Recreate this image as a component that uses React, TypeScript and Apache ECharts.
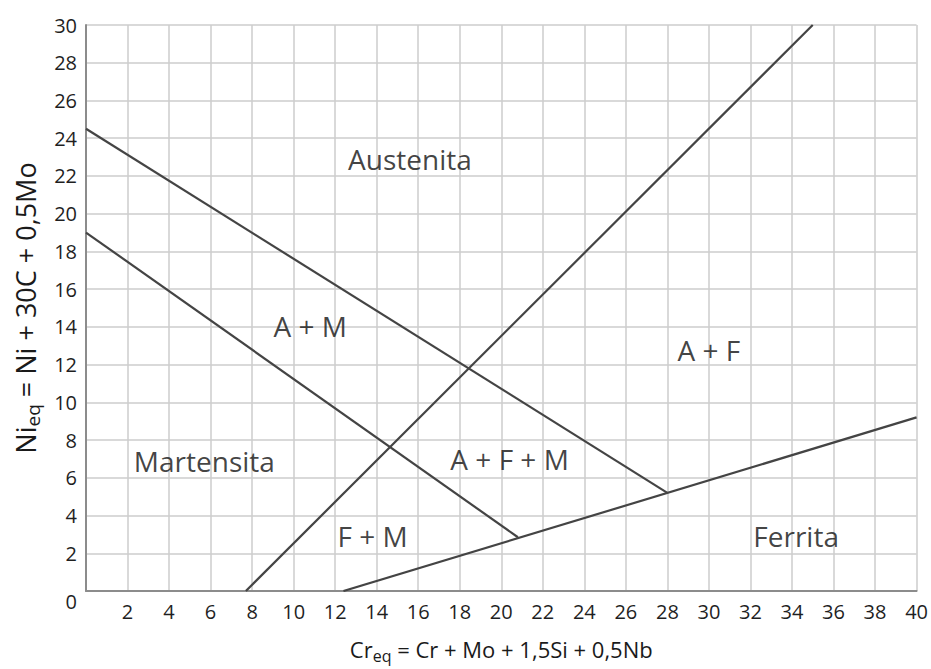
import React, { useEffect, useRef } from "react";
import * as echarts from "echarts";

// Boundary lines of the Schaeffler-type diagram (Cr_eq, Ni_eq)
const austeniteBoundary = [[0, 24.5], [28, 5.2]];
const martensiteBoundary = [[0, 19], [20.8, 2.85]];
const ferriteStartLine = [[7.7, 0], [35, 30]];
const ferriteBoundary = [[12.4, 0], [40, 9.2]];

// Region labels
const regionNames = ["Austenita", "A + M", "A + F", "A + F + M", "Martensita", "F + M", "Ferrita"];
const regionX = [15.6, 10.8, 30.0, 20.4, 5.7, 13.8, 34.2];
const regionY = [22.9, 14.05, 12.8, 7.0, 6.9, 2.9, 2.9];

const xMin = 0, xMax = 40, xStep = 2;
const yMin = 0, yMax = 30, yStep = 2;

const FONT = "'Open Sans', 'Noto Sans', sans-serif";
const LINE_COLOR = "#444444";

export default function App() {
  const ref = useRef<HTMLDivElement>(null);
  useEffect(() => {
    document.body.style.margin = "0";
    const chart = echarts.init(ref.current!, null, { renderer: "svg" });
    const lineSeries = (data: number[][]) => ({
      type: "line",
      data,
      symbol: "none",
      lineStyle: { color: LINE_COLOR, width: 2.2 },
      silent: true,
    });
    chart.setOption({
      animation: false,
      backgroundColor: "#ffffff",
      textStyle: { fontFamily: FONT },
      grid: { left: 86, right: 14, top: 25, bottom: 76 },
      xAxis: {
        type: "value",
        min: xMin,
        max: xMax,
        interval: xStep,
        axisLine: { show: true, onZero: false, lineStyle: { color: "#8c8c8c", width: 2 } },
        axisTick: { show: false },
        axisLabel: {
          color: "#1f1f1f",
          fontSize: 20,
          fontFamily: FONT,
          margin: 10,
          formatter: (v: number) => (v === 0 ? "" : String(v)),
        },
        splitLine: { show: true, lineStyle: { color: "#cdcdcd", width: 1.5 } },
        name: "{n|Cr}{s|eq}{n| = Cr + Mo + 1,5Si + 0,5Nb}",
        nameLocation: "middle",
        nameGap: 43,
        nameTextStyle: {
          rich: {
            n: { fontSize: 22, fontFamily: FONT, color: "#1a1a1a", lineHeight: 30, verticalAlign: "middle" },
            s: { fontSize: 16, fontFamily: FONT, color: "#1a1a1a", lineHeight: 22, verticalAlign: "bottom" },
          },
        },
      },
      yAxis: {
        type: "value",
        min: yMin,
        max: yMax,
        interval: yStep,
        axisLine: { show: true, onZero: false, lineStyle: { color: "#8c8c8c", width: 2 } },
        axisTick: { show: false },
        axisLabel: {
          color: "#1f1f1f",
          fontSize: 20,
          fontFamily: FONT,
          margin: 9,
          formatter: (v: number) => (v === 0 ? "{z|0}" : String(v)),
          rich: { z: { fontSize: 20, fontFamily: FONT, color: "#1f1f1f", padding: [20, 0, 0, 0] } },
        },
        splitLine: { show: true, lineStyle: { color: "#cdcdcd", width: 1.5 } },
        name: "{n|Ni}{s|eq}{n| = Ni + 30C + 0,5Mo}",
        nameLocation: "middle",
        nameGap: 44,
        nameTextStyle: {
          rich: {
            n: { fontSize: 27, fontFamily: FONT, color: "#1a1a1a", lineHeight: 34, verticalAlign: "middle" },
            s: { fontSize: 19, fontFamily: FONT, color: "#1a1a1a", lineHeight: 24, verticalAlign: "bottom" },
          },
        },
      },
      series: [
        lineSeries(austeniteBoundary),
        lineSeries(martensiteBoundary),
        lineSeries(ferriteStartLine),
        lineSeries(ferriteBoundary),
        {
          type: "scatter",
          symbolSize: 0,
          silent: true,
          data: regionNames.map((n, i) => ({ value: [regionX[i], regionY[i]], name: n })),
          label: {
            show: true,
            position: "inside",
            formatter: (p: any) => p.name,
            fontSize: 28,
            fontFamily: FONT,
            color: "#111111",
          },
        },
      ],
    });
    return () => chart.dispose();
  }, []);
  return (
    <div
      ref={ref}
      style={{ position: "fixed", left: 0, top: 0, width: 931, height: 669 }}
    />
  );
}
